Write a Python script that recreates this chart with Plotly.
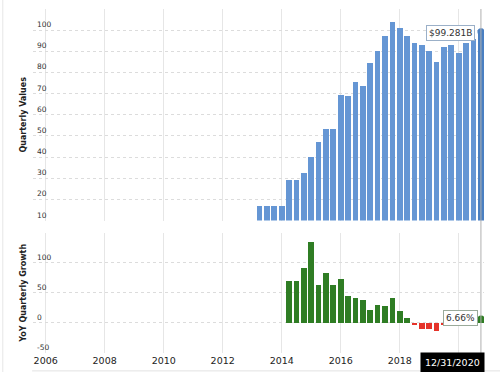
import pandas as pd
import plotly.graph_objects as go
from plotly.subplots import make_subplots

# Quarter-end dates (31 quarters)
quarter_ends = [
    "2013-06-30", "2013-09-30", "2013-12-31", "2014-03-31",
    "2014-06-30", "2014-09-30", "2014-12-31", "2015-03-31",
    "2015-06-30", "2015-09-30", "2015-12-31", "2016-03-31",
    "2016-06-30", "2016-09-30", "2016-12-31", "2017-03-31",
    "2017-06-30", "2017-09-30", "2017-12-31", "2018-03-31",
    "2018-06-30", "2018-09-30", "2018-12-31", "2019-03-31",
    "2019-06-30", "2019-09-30", "2019-12-31", "2020-03-31",
    "2020-06-30", "2020-09-30", "2020-12-31",
]
quarterly_values = [
    16.9, 16.9, 16.9, 16.9, 29.1, 29.1, 32.4, 40.1, 47.3, 53.4, 53.4,
    69.4, 68.9, 75.6, 73.7, 84.6, 90.1, 97.2, 103.9, 101.2, 97.2, 93.8,
    93.1, 90.3, 85.1, 91.9, 93.1, 89.4, 94.1, 96.0, 99.281,
]
yoy_growth = [
    None, None, None, None, 71.0, 71.0, 91.3, 135.8, 63.8, 83.6, 63.8,
    73.7, 45.7, 41.8, 38.0, 22.6, 30.8, 28.6, 41.8, 19.8, 8.8, -3.5,
    -9.4, -9.4, -13.2, -2.0, 0.0, -1.0, 10.6, 4.5, 6.66,
]
value_gridlines = [10, 20, 30, 40, 50, 60, 70, 80, 90, 100, 110]
value_labels = ["10", "20", "30", "40", "50", "60", "70", "80", "90", "100"]
growth_gridlines = [-50, 0, 50, 100, 150]
growth_labels = ["-50", "0", "50", "100"]
year_ticks = ["2006", "2008", "2010", "2012", "2014", "2016", "2018", "2020"]
year_text = ["2006", "2008", "2010", "2012", "2014", "2016", "2018", ""]

# bars are drawn at the start of each quarter period
x = list(pd.PeriodIndex(pd.to_datetime(quarter_ends), freq="Q").start_time)
last_x = x[-1]
last_label = pd.to_datetime(quarter_ends[-1]).strftime("%m/%d/%Y")

BLUE = "#6596d4"
BLUE_HOVER = "#4a7fc1"
GREEN = "#2f7d24"
RED = "#e5332a"
FONT = "DejaVu Sans"

bar_w = 71 * 86400000

fig = make_subplots(rows=2, cols=1, shared_xaxes=True, vertical_spacing=0.035,
                    row_heights=[0.615, 0.35])

blue_colors = [BLUE] * (len(x) - 1) + [BLUE_HOVER]
fig.add_trace(go.Bar(x=x, y=quarterly_values, marker_color=blue_colors,
                     marker_line_width=0, width=bar_w, hoverinfo="skip"),
              row=1, col=1)
g_colors = [GREEN if (v is None or v >= 0) else RED for v in yoy_growth]
fig.add_trace(go.Bar(x=x, y=yoy_growth, marker_color=g_colors,
                     marker_line_width=0, width=bar_w, hoverinfo="skip"),
              row=2, col=1)

# hover markers at the last point
fig.add_trace(go.Scatter(x=[last_x], y=[quarterly_values[-1]], mode="markers",
                         marker=dict(color=BLUE_HOVER, size=7), hoverinfo="skip"),
              row=1, col=1)
fig.add_trace(go.Scatter(x=[last_x], y=[yoy_growth[-1]], mode="markers",
                         marker=dict(color=GREEN, size=7), hoverinfo="skip"),
              row=2, col=1)

fig.update_layout(
    width=500, height=372,
    margin=dict(l=33, r=16, t=9, b=19, autoexpand=False),
    paper_bgcolor="white", plot_bgcolor="white",
    showlegend=False, bargap=0,
    font=dict(family=FONT, color="#333"),
)

xr = ["2005-07-28", "2020-11-08"]
for r in (1, 2):
    fig.update_xaxes(row=r, col=1, type="date", range=xr, automargin=False,
                     tickvals=year_ticks, ticktext=year_text,
                     showgrid=True, gridcolor="#e6e6e6", gridwidth=1,
                     zeroline=False, showline=False, ticks="")
fig.update_xaxes(row=1, col=1, showticklabels=False)
fig.update_xaxes(row=2, col=1, showticklabels=True,
                 tickfont=dict(size=9.5, color="#222", family=FONT))

fig.update_yaxes(row=1, col=1, range=[10, 110], tickvals=value_gridlines,
                 showticklabels=False, automargin=False,
                 showgrid=True, gridcolor="#dcdcdc", griddash="3px,3px",
                 zeroline=False, showline=False, ticks="",
                 title=dict(text="<b>Quarterly Values</b>", standoff=4,
                            font=dict(size=8, color="#222")))
fig.update_yaxes(row=2, col=1, range=[-50, 150], tickvals=growth_gridlines,
                 showticklabels=False, automargin=False,
                 showgrid=True, gridcolor="#dcdcdc", griddash="3px,3px",
                 zeroline=False, showline=False, ticks="",
                 title=dict(text="<b>YoY Quarterly Growth</b>", standoff=4,
                            font=dict(size=8, color="#222")))

# y tick labels sitting just above their gridlines, inside the plot
for v in value_labels:
    fig.add_annotation(x=0.004, y=float(v), xref="x domain", yref="y",
                       text=v, showarrow=False, xanchor="left",
                       yanchor="bottom", yshift=-1,
                       font=dict(size=7.5, color="#333"))
for v in growth_labels:
    fig.add_annotation(x=0.004, y=float(v), xref="x2 domain", yref="y2",
                       text=v, showarrow=False, xanchor="left",
                       yanchor="bottom", yshift=-1,
                       font=dict(size=7.5, color="#333"))

# crosshair
fig.add_shape(type="line", xref="x", yref="paper", x0=last_x, x1=last_x,
              y0=0, y1=1, line=dict(color="#b0b0b0", width=1))
# frame lines
fig.add_shape(type="line", xref="paper", yref="paper", x0=-0.002, x1=1.04,
              y0=-0.052, y1=-0.052, line=dict(color="#e2e2e2", width=1))
fig.add_shape(type="line", xref="paper", yref="paper", x0=-0.067, x1=-0.067,
              y0=-0.06, y1=1.03, line=dict(color="#e6e6e6", width=1))

# tooltips
fig.add_annotation(x=last_x, y=quarterly_values[-1], xref="x", yref="y",
                   text="$%.3fB" % quarterly_values[-1], showarrow=False,
                   xanchor="right", xshift=-6, yshift=-1,
                   bgcolor="white", bordercolor="#9bb0c8", borderwidth=1,
                   borderpad=2, font=dict(size=9, color="#333"))
fig.add_annotation(x=last_x, y=yoy_growth[-1], xref="x2", yref="y2",
                   text="%.2f%%" % yoy_growth[-1], showarrow=False,
                   xanchor="right", xshift=-3, yshift=1,
                   bgcolor="white", bordercolor="#9aaa9a", borderwidth=1,
                   borderpad=2, font=dict(size=9, color="#333"))
fig.add_annotation(x=last_x, y=-0.027, xref="x2", yref="paper",
                   text=last_label, showarrow=False, xanchor="right",
                   yanchor="middle", xshift=4,
                   bgcolor="black", borderpad=4,
                   font=dict(size=9.5, color="white"))

fig.write_html("out.html",
               config={"displayModeBar": False},
               post_script="document.body.style.margin='0';"
                           "document.body.style.overflow='hidden';")
